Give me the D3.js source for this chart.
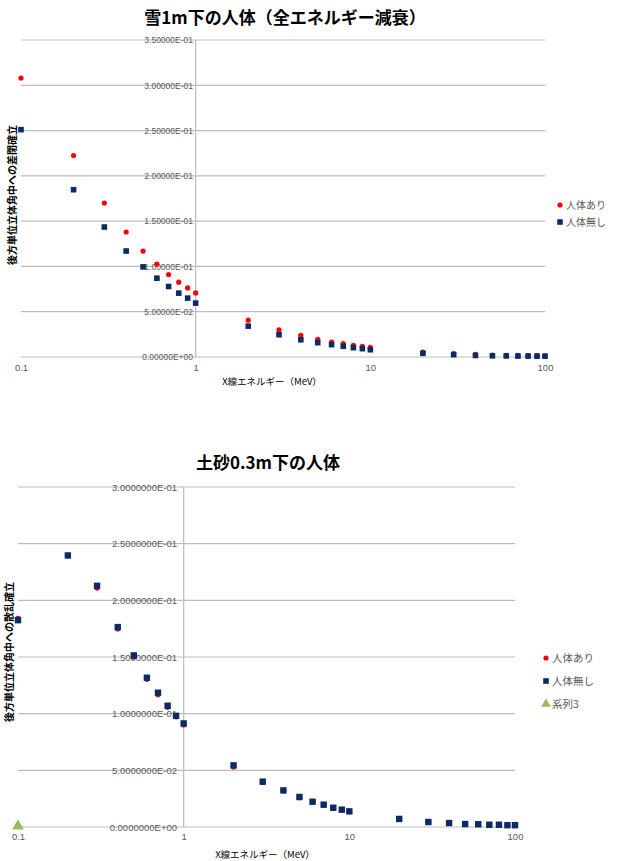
<!DOCTYPE html>
<html><head><meta charset="utf-8">
<script src="https://cdn.jsdelivr.net/npm/d3@7"></script>
<style>
body{margin:0;background:#fff;}
svg{display:block;font-family:"Noto Sans CJK JP","Noto Sans",sans-serif;}
</style></head>
<body>
<svg id="c" width="617" height="861"></svg>
<script>
const energies = [0.1,0.2,0.3,0.4,0.5,0.6,0.7,0.8,0.9,1,2,3,4,5,6,7,8,9,10,20,30,40,50,60,70,80,90,100];

// Chart 1: snow 1m
const snowWith = [0.308,0.2225,0.170,0.138,0.117,0.1027,0.091,0.0826,0.0763,0.0708,0.0407,0.030,0.0239,0.0195,0.0165,0.0147,0.0129,0.0118,0.0107,0.0055,0.0037,0.0028,0.0022,0.0019,0.0017,0.0016,0.0015,0.0014];
const snowWithout = [0.251,0.1847,0.1435,0.117,0.0995,0.087,0.0778,0.0705,0.065,0.0595,0.0341,0.0246,0.019,0.0158,0.0136,0.0118,0.0103,0.0092,0.008,0.0041,0.0026,0.0017,0.0013,0.0012,0.001,0.001,0.0009,0.0009];

// Chart 2: soil 0.3m
const soilWith = [0.184,0.2394,0.211,0.1749,0.150,0.1305,0.117,0.1058,0.0973,0.0902,0.0532,0.0397,0.032,0.026,0.022,0.0195,0.0168,0.0152,0.0137,0.0071,0.0044,0.0035,0.0026,0.0024,0.002,0.002,0.0016,0.0016];
const soilWithout = [0.1825,0.2396,0.2128,0.1764,0.1514,0.1317,0.1185,0.107,0.0981,0.0914,0.0544,0.040,0.0323,0.0265,0.0223,0.0197,0.017,0.0153,0.0138,0.0071,0.0044,0.0035,0.0026,0.0024,0.002,0.002,0.0016,0.0016];
const series3X = [0.1];
const series3Y = [0];

const xTicks = [0.1,1,10,100];
const yTicks1 = [0,0.05,0.1,0.15,0.2,0.25,0.3,0.35];
const yTicks2 = [0,0.05,0.1,0.15,0.2,0.25,0.3];

const seriesNames1 = ["人体あり","人体無し"];
const seriesNames2 = ["人体あり","人体無し","系列3"];
const colors = {red:"#ff0000", navy:"#0c2a66", green:"#9bbb59"};

const svg = d3.select("#c");

function expFmt(v, digits){
  const s = v.toExponential(digits);
  const [m, e] = s.split("e");
  const sign = e[0] === "-" ? "-" : "+";
  const n = Math.abs(parseInt(e,10));
  return m + "E" + sign + (n<10?"0":"") + n;
}

function chart(cfg){
  const g = svg.append("g");
  const x = d3.scaleLog().domain([0.1,100]).range([cfg.x0, cfg.x1]);
  const y = d3.scaleLinear().domain([0, cfg.ymax]).range([cfg.y0, cfg.y1]);

  g.append("text").attr("x", cfg.titleX).attr("y", cfg.titleY)
    .attr("text-anchor","middle").attr("font-size",17).attr("font-weight","bold")
    .attr("fill","#000").text(cfg.title);

  g.append("g").selectAll("line").data(cfg.yTicks).join("line")
    .attr("x1", cfg.x0).attr("x2", cfg.x1)
    .attr("y1", d=>y(d)).attr("y2", d=>y(d))
    .attr("stroke","#bdbdbd").attr("stroke-width",1.2);

  g.append("line").attr("x1", x(1)).attr("x2", x(1))
    .attr("y1", y(cfg.ymax)).attr("y2", y(0))
    .attr("stroke","#bdbdbd").attr("stroke-width",1.2);

  const ya = d3.axisLeft(y).tickValues(cfg.yTicks).tickSize(0).tickPadding(0)
    .tickFormat(d=>expFmt(d, cfg.digits));
  const yg = g.append("g").attr("transform",`translate(${cfg.ylabX},0)`).call(ya);
  yg.select(".domain").remove();
  yg.selectAll("text").attr("font-size",cfg.tickFs).attr("fill","#595959")
    .attr("font-family","'Liberation Sans',Arial,sans-serif");

  const xa = d3.axisBottom(x).tickValues(xTicks).tickSize(0).tickPadding(0)
    .tickFormat(d=>String(d));
  const xg = g.append("g").attr("transform",`translate(0,${cfg.xlabY})`).call(xa);
  xg.select(".domain").remove();
  xg.selectAll("text").attr("font-size",9.5).attr("fill","#595959")
    .attr("font-family","'Liberation Sans',Arial,sans-serif");

  g.append("text").attr("x", cfg.xTitleX).attr("y", cfg.xTitleY)
    .attr("text-anchor","middle").attr("font-size",9.5).attr("fill","#000")
    .text("X線エネルギー（MeV）");

  g.append("text").attr("transform",`translate(${cfg.yTitleX},${cfg.yTitleY}) rotate(-90)`)
    .attr("text-anchor","middle").attr("font-size",10).attr("font-weight","bold")
    .attr("fill","#000").text(cfg.yTitle);

  g.append("g").selectAll("circle").data(energies.map((e,i)=>[e,cfg.red[i]])).join("circle")
    .attr("cx", d=>x(d[0])).attr("cy", d=>y(d[1])).attr("r", cfg.r)
    .attr("fill", colors.red);
  const s = cfg.sq;
  g.append("g").selectAll("rect").data(energies.map((e,i)=>[e,cfg.blue[i]])).join("rect")
    .attr("x", d=>x(d[0])-s/2).attr("y", d=>y(d[1])-s/2)
    .attr("width", s).attr("height", s).attr("fill", colors.navy);

  if (cfg.green){
    g.append("g").selectAll("path").data(series3X.map((e,i)=>[e,series3Y[i]])).join("path")
      .attr("d", d3.symbol(d3.symbolTriangle, 60))
      .attr("transform", d=>`translate(${x(d[0])},${y(d[1])-1})`)
      .attr("fill", colors.green);
  }

  const lg = g.append("g").attr("transform",`translate(${cfg.legX},${cfg.legY})`);
  cfg.legNames.forEach((n,i)=>{
    const yy = i*cfg.legStep;
    if (i===0) lg.append("circle").attr("cx",0).attr("cy",yy).attr("r",2.6).attr("fill",colors.red);
    else if (i===1) lg.append("rect").attr("x",-2.8).attr("y",yy-2.8).attr("width",5.6).attr("height",5.6).attr("fill",colors.navy);
    else lg.append("path").attr("d", d3.symbol(d3.symbolTriangle, 40)).attr("transform",`translate(0,${yy})`).attr("fill",colors.green);
    lg.append("text").attr("x",6).attr("y",yy).attr("dy","0.35em")
      .attr("font-size",cfg.legFs).attr("fill","#595959").text(n);
  });
}

chart({
  title:"雪1m下の人体（全エネルギー減衰）", titleX:285, titleY:24,
  x0:21, x1:545, y0:357, y1:40, ymax:0.35, yTicks:yTicks1, digits:5, tickFs:8.5,
  ylabX:193, xlabY:364, xTitleX:272, xTitleY:385,
  yTitle:"後方単位立体角中への差閉確立", yTitleX:16, yTitleY:195,
  red:snowWith, blue:snowWithout, r:2.6, sq:5.6,
  legX:560, legY:205, legStep:17, legNames:seriesNames1, legFs:10, green:false
});

chart({
  title:"土砂0.3m下の人体", titleX:268, titleY:469,
  x0:18, x1:515, y0:827, y1:487, ymax:0.3, yTicks:yTicks2, digits:7, tickFs:9.5,
  ylabX:177, xlabY:833, xTitleX:265, xTitleY:858,
  yTitle:"後方単位立体角中への散乱確立", yTitleX:13, yTitleY:652,
  red:soilWith, blue:soilWithout, r:2.8, sq:6.4,
  legX:546, legY:658, legStep:23, legNames:seriesNames2, legFs:10.5, green:true
});
</script>
</body></html>
